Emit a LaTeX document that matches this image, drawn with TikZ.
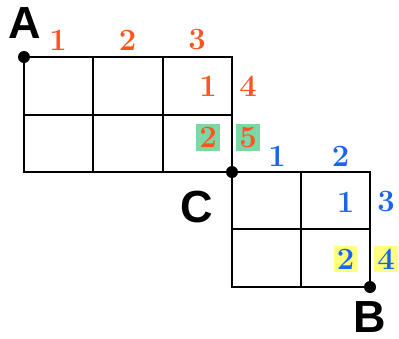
\documentclass[tikz,border=0pt]{standalone}
\usepackage{fontspec}
\newfontfamily\letfont{Liberation Sans}
\definecolor{orng}{RGB}{255,85,30}
\definecolor{blu}{RGB}{25,100,240}
\definecolor{grn}{RGB}{125,215,165}
\definecolor{ylw}{RGB}{255,255,125}
\tikzset{
  gridline/.style={line width=2.2pt, black, line cap=rect},
  dotmark/.style={circle, fill=black, inner sep=0pt, minimum size=12pt},
  bigletter/.style={font=\letfont\bfseries\fontsize{45}{45}\selectfont, inner sep=0pt},
  onum/.style={text=orng, font=\bfseries\fontsize{31}{31}\selectfont, inner sep=3pt},
  bnum/.style={text=blu, font=\bfseries\fontsize{31}{31}\selectfont, inner sep=3pt},
}
\begin{document}
\begin{tikzpicture}[x=1pt,y=-1pt]
\useasboundingbox (0,0) rectangle (399,338);
% first grid
\draw[gridline] (24,57) -- (232,57);
\draw[gridline] (24,115) -- (232,115);
\draw[gridline] (24,172) -- (370,172);
\draw[gridline] (24,57) -- (24,172);
\draw[gridline] (93,57) -- (93,172);
\draw[gridline] (163,57) -- (163,172);
\draw[gridline] (232,57) -- (232,287);
% second grid
\draw[gridline] (232,229) -- (370,229);
\draw[gridline] (232,287) -- (370,287);
\draw[gridline] (301,172) -- (301,287);
\draw[gridline] (370,172) -- (370,287);
% dots
\node[dotmark] (dA) at (24,57) {};
\node[dotmark] (dC) at (232,172) {};
\node[dotmark] (dB) at (370,287) {};
% letters
\node[bigletter] (A) at (25,23) {A};
\node[bigletter] (C) at (197,207) {C};
\node[bigletter] (B) at (370,317) {B};
% orange numbers
\node[onum] (o1) at (58,40) {1};
\node[onum] (o2) at (127.5,40) {2};
\node[onum] (o3) at (197,40) {3};
\node[onum] (oi1) at (208,86) {1};
\node[onum] (o4) at (248,86) {4};
\node[onum, fill=grn] (oi2) at (208,137.5) {2};
\node[onum, fill=grn] (o5) at (248,137.5) {5};
% blue numbers
\node[bnum] (b1) at (277,156) {1};
\node[bnum] (b2) at (340.5,156) {2};
\node[bnum] (bi1) at (345.5,202) {1};
\node[bnum] (b3) at (386,202) {3};
\node[bnum, fill=ylw] (bi2) at (345.5,259) {2};
\node[bnum, fill=ylw] (b4) at (386,259) {4};
\end{tikzpicture}
\end{document}
